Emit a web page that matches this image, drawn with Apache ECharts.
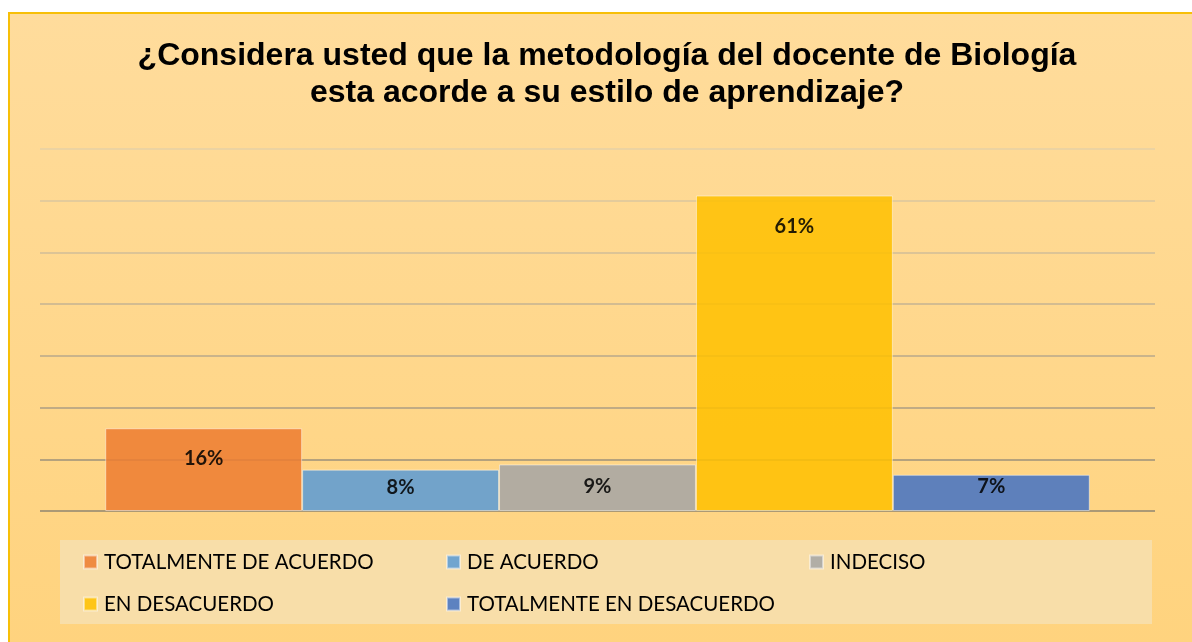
<!DOCTYPE html>
<html>
<head>
<meta charset="utf-8">
<script src="https://cdn.jsdelivr.net/npm/echarts@6/dist/echarts.min.js"></script>
<style>
    html, body { margin: 0; padding: 0; background: #fff; }
    #frame {
        position: absolute; left: 8px; top: 12px; width: 1184px; height: 630px;
        border-left: 2px solid #f7bf08; border-top: 2px solid #f7bf08;
        background: linear-gradient(to bottom, #ffdc9c, #ffd37e);
    }
    #chart { position: absolute; left: 0; top: 0; width: 1192px; height: 642px; }
</style>
</head>
<body>
<div id="frame"></div>
<div id="chart"></div>
<script>
var titleLines = ['¿Considera usted que la metodología del docente de Biología', 'esta acorde a su estilo de aprendizaje?'];
var categories = [''];
var seriesNames = ['TOTALMENTE DE ACUERDO', 'DE ACUERDO', 'INDECISO', 'EN DESACUERDO', 'TOTALMENTE EN DESACUERDO'];
var seriesValues = [16, 8, 9, 61, 7];
var colors = ['#ed7d31', '#5b9bd5', '#a5a5a5', '#ffc000', '#4472c4'];
// label offset from the bar top, per series
var labelDistance = [20, 8, 12, 21, 2];

var myChart = echarts.init(document.getElementById('chart'));

var series = seriesNames.map(function (name, i) {
    return {
        name: name,
        type: 'bar',
        data: [seriesValues[i]],
        barGap: '0%',
        barCategoryGap: '11.7%',
        itemStyle: {
            color: colors[i],
            opacity: 0.86,
            borderColor: 'rgba(255,255,255,0.55)',
            borderWidth: 1
        },
        label: {
            show: true,
            position: 'insideTop',
            distance: labelDistance[i],
            formatter: '{c}%',
            color: '#000',
            fontFamily: 'Lato',
            fontWeight: 'bold',
            fontSize: 20
        }
    };
});

myChart.setOption({
    backgroundColor: 'transparent',
    animation: false,
    title: {
        text: titleLines.join('\n'),
        left: 602,
        top: 33,
        textAlign: 'center',
        textStyle: {
            fontFamily: 'Liberation Sans',
            fontWeight: 'bold',
            fontSize: 32,
            lineHeight: 37,
            color: '#000'
        }
    },
    graphic: [{
        type: 'rect',
        z: -1,
        shape: { x: 60, y: 540, width: 1092, height: 84 },
        style: { fill: '#f8dea9' }
    }],
    legend: {
        data: seriesNames,
        left: 83,
        top: 541,
        width: 1100,
        padding: 0,
        itemGap: 0,
        itemWidth: 13,
        itemHeight: 13,
        icon: 'rect',
        textStyle: {
            fontFamily: 'Lato',
            fontSize: 20.5,
            color: '#000',
            width: 342,
            lineHeight: 42,
            padding: [0, 0, 0, 2]
        }
    },
    grid: { left: 40, right: 37, top: 149, bottom: 131 },
    xAxis: {
        type: 'category',
        data: categories,
        axisLine: { show: false },
        axisTick: { show: false },
        axisLabel: { show: false }
    },
    yAxis: {
        type: 'value',
        min: 0,
        max: 70,
        interval: 10,
        axisLabel: { show: false },
        splitLine: {
            lineStyle: {
                // darker near the base, lighter toward the top
                color: ['#8f8470', '#9d907a', '#ab9d83', '#b8a88b', '#c5b392', '#d0bd98', '#dbc69e', '#e6d0a6'],
                width: 1.5
            }
        }
    },
    series: series
});
</script>
</body>
</html>
